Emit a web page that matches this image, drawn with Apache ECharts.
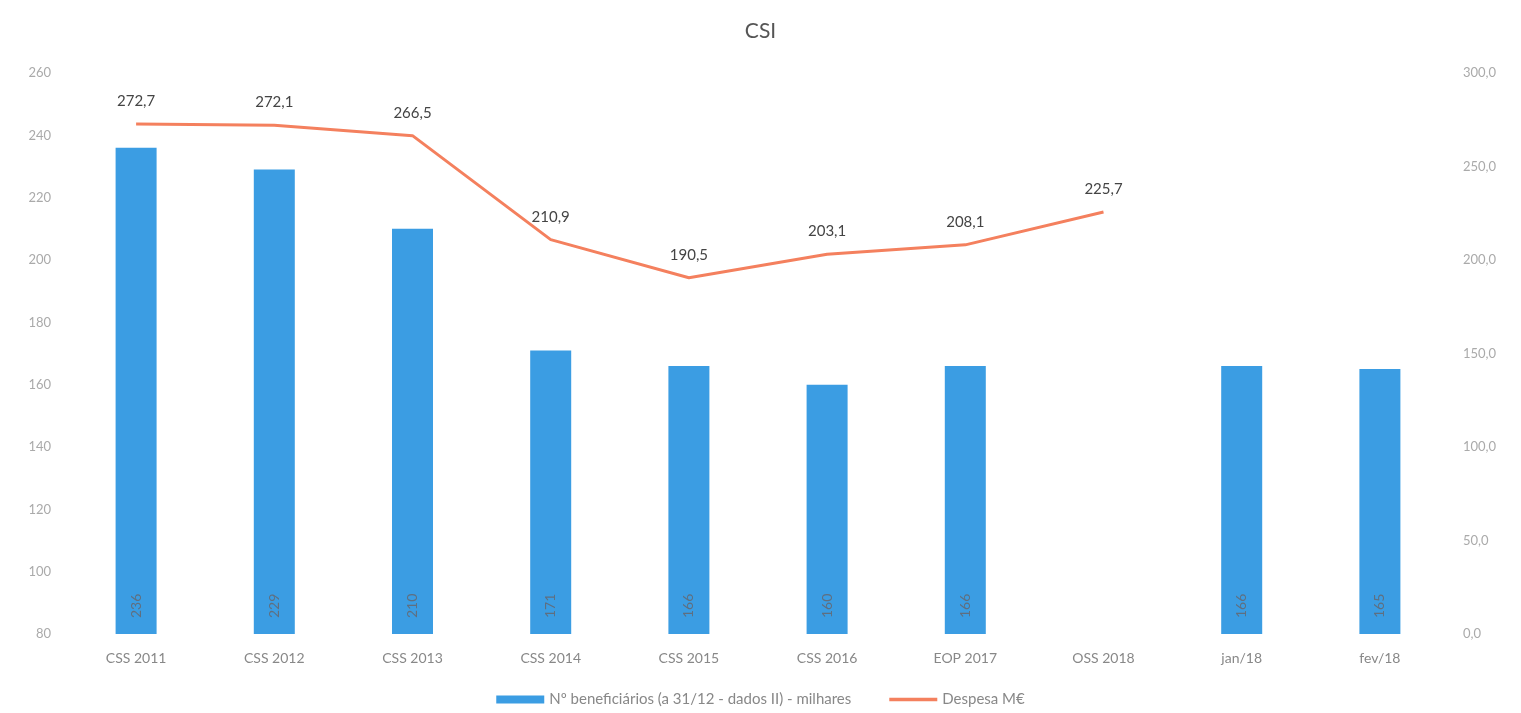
<!DOCTYPE html>
<html>
<head>
<meta charset="utf-8">
<script src="https://cdn.jsdelivr.net/npm/echarts@6/dist/echarts.min.js"></script>
<style>
  html, body { margin: 0; padding: 0; background: #fff; }
  #chart { width: 1521px; height: 713px; }
</style>
</head>
<body>
<div id="chart"></div>
<script>
const categories = ["CSS 2011", "CSS 2012", "CSS 2013", "CSS 2014", "CSS 2015", "CSS 2016", "EOP 2017", "OSS 2018", "jan/18", "fev/18"];
const beneficiarios = [236, 229, 210, 171, 166, 160, 166, null, 166, 165];
const despesa = [272.7, 272.1, 266.5, 210.9, 190.5, 203.1, 208.1, 225.7, null, null];

const barName = "Nº beneficiários (a 31/12 - dados II) - milhares";
const lineName = "Despesa M€";

const fmt1 = (v) => v.toFixed(1).replace(".", ",");

const chart = echarts.init(document.getElementById("chart"));
chart.setOption({
  textStyle: { fontFamily: "Lato, 'Open Sans', sans-serif" },
  title: {
    text: "CSI",
    left: "center",
    top: 16,
    textStyle: { fontSize: 21, fontWeight: "normal", color: "#555" },
  },
  legend: {
    bottom: 1,
    left: "center",
    itemWidth: 48,
    itemHeight: 8,
    itemGap: 38,
    textStyle: { fontSize: 15, color: "#888" },
    data: [
      { name: barName, icon: "rect" },
      { name: lineName, icon: "path://M0,0 L40,0 L40,3 L0,3 Z" },
    ],
  },
  grid: { left: 67, right: 72, top: 73, bottom: 79 },
  xAxis: {
    type: "category",
    data: categories,
    axisLine: { show: false },
    axisTick: { show: false },
    axisLabel: { fontSize: 14, color: "#888", margin: 17 },
  },
  yAxis: [
    {
      type: "value",
      min: 80,
      max: 260,
      interval: 20,
      axisLine: { show: false },
      axisTick: { show: false },
      splitLine: { show: false },
      axisLabel: { fontSize: 13, color: "#aaa", margin: 16 },
    },
    {
      type: "value",
      min: 0,
      max: 300,
      interval: 50,
      axisLine: { show: false },
      axisTick: { show: false },
      splitLine: { show: false },
      axisLabel: { fontSize: 13, color: "#aaa", margin: 14, formatter: fmt1 },
    },
  ],
  series: [
    {
      name: barName,
      type: "bar",
      data: beneficiarios,
      barWidth: 41,
      itemStyle: { color: "#3B9DE3" },
      label: {
        show: true,
        position: "insideBottom",
        rotate: 90,
        align: "left",
        verticalAlign: "middle",
        distance: 16,
        fontSize: 14,
        color: "#5f6f80",
      },
    },
    {
      name: lineName,
      type: "line",
      yAxisIndex: 1,
      data: despesa,
      symbol: "circle",
      symbolSize: 0.1,
      lineStyle: { width: 3, color: "#F4805E" },
      itemStyle: { color: "#F4805E" },
      label: {
        show: true,
        position: "top",
        distance: 15,
        fontSize: 15,
        color: "#444",
        formatter: (p) => fmt1(p.value),
      },
    },
  ],
});
</script>
</body>
</html>
